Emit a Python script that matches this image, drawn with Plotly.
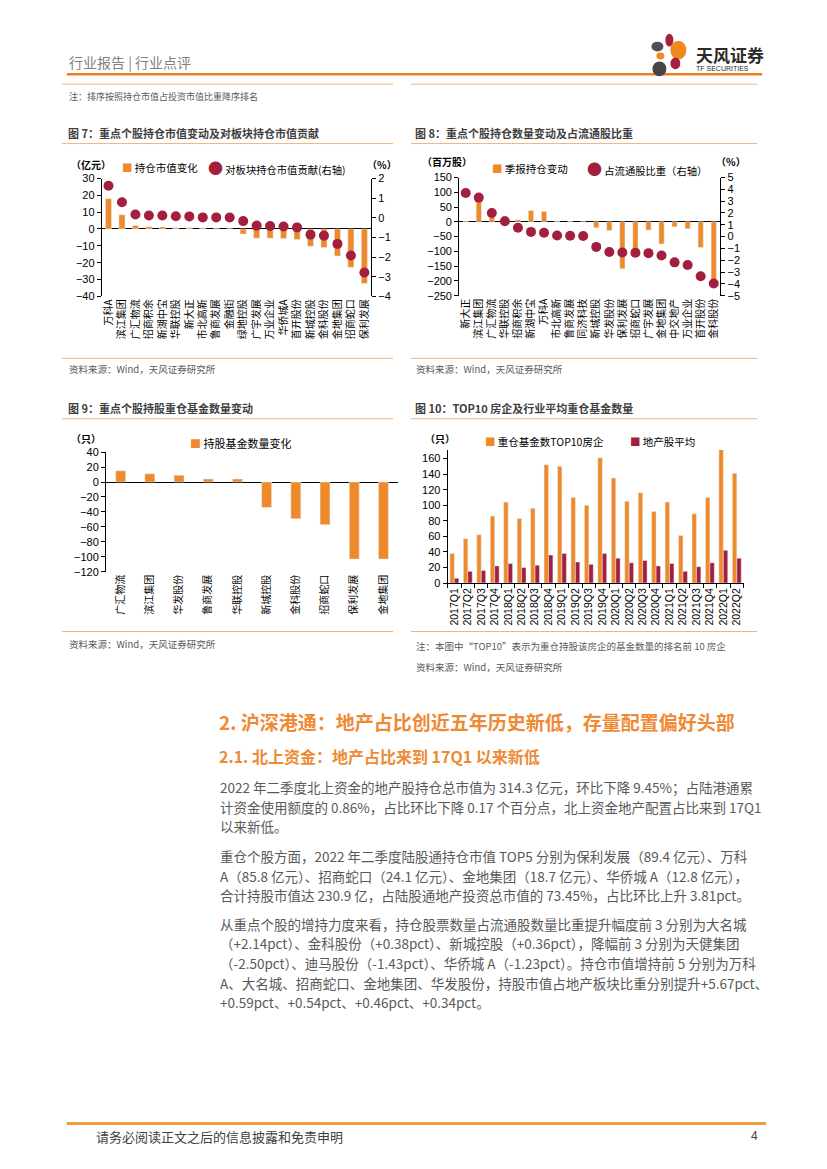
import plotly.graph_objects as go

W, H = 827, 1169
CJK = "Noto Sans CJK SC"
LAT = "Liberation Sans"
ORANGE = "#EF8A2B"
MAROON = "#A21F3D"
LINE_LIGHT = "#F5B27A"

# ---------------- data ----------------
cats7 = ["万科A", "滨江集团", "广汇物流", "招商积余", "新湖中宝", "华联控股", "新大正", "市北高新",
         "鲁商发展", "金融街", "绿地控股", "广宇发展", "万业企业", "华侨城A", "首开股份", "新城控股",
         "金科股份", "金地集团", "招商蛇口", "保利发展"]
chg7 = [18.0, 8.4, 2.0, 1.4, 1.2, 0.8, 0.7, 0.3, 0.2, 0.1, -3.0, -5.5, -5.5, -5.7, -6.3, -10.2,
        -11.0, -16.0, -22.7, -32.4]
contrib7 = [1.63, 0.79, 0.17, 0.12, 0.12, 0.08, 0.07, 0.02, 0.02, 0.01, -0.17, -0.40, -0.42, -0.44,
            -0.49, -0.86, -0.91, -1.33, -1.92, -2.79]

cats8 = ["新大正", "滨江集团", "广汇物流", "华联控股", "招商积余", "新湖中宝", "万科A", "市北高新",
         "鲁商发展", "同济科技", "新城控股", "华发股份", "保利发展", "招商蛇口", "广宇发展", "金地集团",
         "中交地产", "万业企业", "首开股份", "金科股份"]
chg8 = [3, 77, 28, 19, 7, 38, 35, 2, 1, 0.5, -20, -29, -159, -96, -28, -75, -17, -23, -87, -210]
share8 = [3.69, 3.30, 2.00, 1.30, 0.75, 0.40, 0.33, 0.10, 0.08, 0.05, -0.87, -1.30, -1.34, -1.37,
          -1.40, -1.60, -2.18, -2.40, -3.35, -3.97]

cats9 = ["广汇物流", "滨江集团", "华发股份", "鲁商发展", "华联控股", "新城控股", "金科股份", "招商蛇口",
         "保利发展", "金地集团"]
chg9 = [15, 11, 9, 4, 4, -34, -49, -57, -103, -103]

quarters = ["2017Q1", "2017Q2", "2017Q3", "2017Q4", "2018Q1", "2018Q2", "2018Q3", "2018Q4",
            "2019Q1", "2019Q2", "2019Q3", "2019Q4", "2020Q1", "2020Q2", "2020Q3", "2020Q4",
            "2021Q1", "2021Q2", "2021Q3", "2021Q4", "2022Q1", "2022Q2"]
top10 = [38, 57, 62, 86, 104, 83, 96, 152, 150, 110, 100, 161, 135, 105, 116, 92, 104, 61, 89, 110, 172, 141]
avg = [6, 15, 16, 22, 25, 20, 23, 36, 38, 27, 24, 38, 32, 26, 29, 22, 25, 15, 21, 26, 42, 32]
ticks10 = [0, 20, 40, 60, 80, 100, 120, 140, 160]


def px(x):
    return x / W


def py(y):
    return 1 - y / H


fig = go.Figure()

# chart 7
fig.add_trace(go.Bar(x=cats7, y=chg7, marker_color=ORANGE, width=0.45, xaxis="x", yaxis="y"))
fig.add_trace(go.Scatter(x=cats7, y=contrib7, mode="markers", xaxis="x", yaxis="y2",
                         marker=dict(color=MAROON, size=10)))
# chart 8
fig.add_trace(go.Bar(x=cats8, y=chg8, marker_color=ORANGE, width=0.4, xaxis="x2", yaxis="y3"))
fig.add_trace(go.Scatter(x=cats8, y=share8, mode="markers", xaxis="x2", yaxis="y4",
                         marker=dict(color=MAROON, size=10)))
# chart 9
fig.add_trace(go.Bar(x=cats9, y=chg9, marker_color=ORANGE, width=0.34, xaxis="x3", yaxis="y5"))
# chart 10
fig.add_trace(go.Bar(x=quarters, y=top10, marker_color=ORANGE, width=0.33, offset=-0.33,
                     xaxis="x4", yaxis="y6"))
fig.add_trace(go.Bar(x=quarters, y=avg, marker_color=MAROON, width=0.33, offset=0.0,
                     xaxis="x4", yaxis="y6"))

num_font = dict(family=LAT, size=11, color="#000000")
cat_font = dict(family=CJK, size=10, color="#000000")

yax = dict(showgrid=False, showline=True, linecolor="#000000", linewidth=1, ticks="outside",
           ticklen=4, tickcolor="#000000", tickfont=num_font, zeroline=False, fixedrange=True)
xcat = dict(type="category", showgrid=False, showline=False, ticks="", tickangle=-90,
            tickfont=cat_font, zeroline=False, fixedrange=True)

fig.update_layout(
    width=W, height=H, margin=dict(l=0, r=0, t=0, b=0),
    paper_bgcolor="white", plot_bgcolor="white", showlegend=False,
    barmode="overlay",
    xaxis=dict(xcat, domain=[px(100), px(370)], anchor="y", range=[-0.5, 19.5]),
    yaxis=dict(yax, domain=[py(293.3), py(174.3)], anchor="x", range=[-40, 30], dtick=10,
               zeroline=True, zerolinecolor="#000000", zerolinewidth=1),
    yaxis2=dict(yax, overlaying="y", side="right", anchor="x", range=[-4, 2], dtick=1),
    xaxis2=dict(xcat, domain=[px(458.3), px(720)], anchor="y3", range=[-0.5, 19.5]),
    yaxis3=dict(yax, domain=[py(292.7), py(173.3)], anchor="x2", range=[-250, 150], dtick=50,
                zeroline=True, zerolinecolor="#000000", zerolinewidth=1),
    yaxis4=dict(yax, overlaying="y3", side="right", anchor="x2", range=[-5, 5], dtick=1),
    xaxis3=dict(xcat, domain=[px(104.3), px(397)], anchor="y5", range=[-0.5, 9.5]),
    yaxis5=dict(yax, domain=[py(571.7), py(450.7)], anchor="x3", range=[-120, 40], dtick=20,
                zeroline=True, zerolinecolor="#000000", zerolinewidth=1),
    xaxis4=dict(type="category", domain=[px(446.7), px(743.3)], anchor="y6", range=[-0.5, 21.5],
                showgrid=False, showline=True, linecolor="#000000", ticks="outside", ticklen=4,
                tickson="boundaries", tickcolor="#000000", tickangle=-90,
                tickfont=dict(family=LAT, size=10.5, color="#000000"), fixedrange=True),
    yaxis6=dict(yax, domain=[py(583), py(448.6)], anchor="x4", range=[0, 171], tickvals=ticks10),
)

shapes = []


def hline(x0, x1, y, color, width):
    shapes.append(dict(type="line", xref="paper", yref="paper", x0=px(x0), x1=px(x1),
                       y0=py(y), y1=py(y), line=dict(color=color, width=width), layer="below"))


hline(65, 762, 69, "#EB7E22", 2.5)
hline(60, 392, 79, LINE_LIGHT, 1)
hline(410, 757, 79, LINE_LIGHT, 1)
hline(60, 392, 139, LINE_LIGHT, 1)
hline(410, 757, 139, LINE_LIGHT, 1)
hline(60, 392, 356, LINE_LIGHT, 1)
hline(410, 757, 356, LINE_LIGHT, 1)
hline(60, 392, 417, LINE_LIGHT, 1)
hline(410, 757, 417, LINE_LIGHT, 1)
hline(60, 392, 632, LINE_LIGHT, 1)
hline(410, 757, 632, LINE_LIGHT, 1)
hline(65, 766, 1129, "#EF9E3A", 3)


def ellipse(x0, x1, y0, y1, color):
    shapes.append(dict(type="circle", xref="paper", yref="paper", x0=px(x0), x1=px(x1),
                       y0=py(y1), y1=py(y0), fillcolor=color, line=dict(width=0)))


# logo
ellipse(665, 673, 28, 41, "#A5203A")
ellipse(651, 663, 36, 46, "#505050")
ellipse(670, 686, 35, 54, "#F08A1E")
ellipse(656, 664, 47, 54, "#F08A1E")
ellipse(670, 680, 52, 64, "#A5203A")
ellipse(652, 666, 56, 71, "#454545")

ann = []


def txt(x, y, text, size, color="#404040", anchor="left", family=CJK):
    ann.append(dict(x=px(x), y=py(y), xref="paper", yref="paper", text=text, showarrow=False,
                    xanchor=anchor, yanchor="middle", align="left",
                    font=dict(family=family, size=size, color=color)))


txt(694, 49, "<b>天风证券</b>", 17, "#2B2B2B")
txt(694, 63, "TF SECURITIES", 7, "#2B2B2B", family=LAT)
txt(65, 57, "行业报告 | 行业点评", 14, "#7F7F7F")
txt(65, 91, "注：排序按照持仓市值占投资市值比重降序排名", 9, "#595959")

txt(64, 128, "<b>图 7：重点个股持仓市值变动及对板块持仓市值贡献</b>", 11, "#404040")
txt(412, 128, "<b>图 8：重点个股持仓数量变动及占流通股比重</b>", 11, "#404040")
txt(64, 406, "<b>图 9：重点个股持股重仓基金数量变动</b>", 11, "#404040")
txt(412, 406, "<b>图 10：TOP10 房企及行业平均重仓基金数量</b>", 11, "#404040")

src = "资料来源：Wind，天风证券研究所"
txt(65, 367, src, 9.5, "#595959")
txt(413, 367, src, 9.5, "#595959")
txt(65, 645, src, 9.5, "#595959")
txt(413, 647, "注：本图中“TOP10”表示为重仓持股该房企的基金数量的排名前 10 房企", 9.5, "#595959")
txt(413, 668, src, 9.5, "#595959")

# units
txt(89, 160, "<b>（亿元）</b>", 10, "#000000", "center")
txt(381, 160, "<b>（%）</b>", 10, "#000000", "center")
txt(446, 157, "<b>（百万股）</b>", 10, "#000000", "center")
txt(731, 157, "<b>（%）</b>", 10, "#000000", "center")
txt(84, 437, "<b>（只）</b>", 10, "#000000", "center")
txt(439, 437, "<b>（只）</b>", 10, "#000000", "center")


def sq(c):
    return f'<span style="color:{c}">■</span> '


def dot(c):
    return f'<span style="color:{c};font-size:15px">●</span> '


# legends
txt(118, 163, sq(ORANGE) + "持仓市值变化", 10.5, "#000000")
txt(204, 163, dot(MAROON) + "对板块持仓市值贡献(右轴)", 10.3, "#000000")
txt(489, 164, sq(ORANGE) + "季报持仓变动", 10.5, "#000000")
txt(584, 164, dot(MAROON) + "占流通股比重（右轴）", 10.3, "#000000")
txt(186, 442, sq(ORANGE) + "持股基金数量变化", 11, "#000000")
txt(482, 440, sq(ORANGE) + "重仓基金数TOP10房企", 10.5, "#000000")
txt(628, 440, sq(MAROON) + "地产股平均", 10.5, "#000000")

# body text
HEAD = "#EE8A34"
txt(216, 723, "<b>2. 沪深港通：地产占比创近五年历史新低，存量配置偏好头部</b>", 19, HEAD)
txt(216, 758, "<b>2.1. 北上资金：地产占比来到 17Q1 以来新低</b>", 16, HEAD)

BODY = "#595959"
body_lines = [
    (789, "2022 年二季度北上资金的地产股持仓总市值为 314.3 亿元，环比下降 9.45%；占陆港通累"),
    (809, "计资金使用额度的 0.86%，占比环比下降 0.17 个百分点，北上资金地产配置占比来到 17Q1"),
    (828, "以来新低。"),
    (859, "重仓个股方面，2022 年二季度陆股通持仓市值 TOP5 分别为保利发展（89.4 亿元）、万科"),
    (879, "A（85.8 亿元）、招商蛇口（24.1 亿元）、金地集团（18.7 亿元）、华侨城 A（12.8 亿元），"),
    (898, "合计持股市值达 230.9 亿，占陆股通地产投资总市值的 73.45%，占比环比上升 3.81pct。"),
    (928, "从重点个股的增持力度来看，持仓股票数量占流通股数量比重提升幅度前 3 分别为大名城"),
    (947, "（+2.14pct）、金科股份（+0.38pct）、新城控股（+0.36pct），降幅前 3 分别为天健集团"),
    (967, "（-2.50pct）、迪马股份（-1.43pct）、华侨城 A（-1.23pct）。持仓市值增持前 5 分别为万科"),
    (987, "A、大名城、招商蛇口、金地集团、华发股份，持股市值占地产板块比重分别提升+5.67pct、"),
    (1006, "+0.59pct、+0.54pct、+0.46pct、+0.34pct。"),
]
for y, t in body_lines:
    txt(217, y, t, 13.5, BODY)

txt(92, 1142, "请务必阅读正文之后的信息披露和免责申明", 13, "#404040")
txt(760, 1142, "4", 12, "#404040", "right", LAT)

fig.update_layout(shapes=shapes, annotations=ann)

fig.write_html("out.html", config={"displayModeBar": False},
               post_script="document.body.style.margin='0';")
